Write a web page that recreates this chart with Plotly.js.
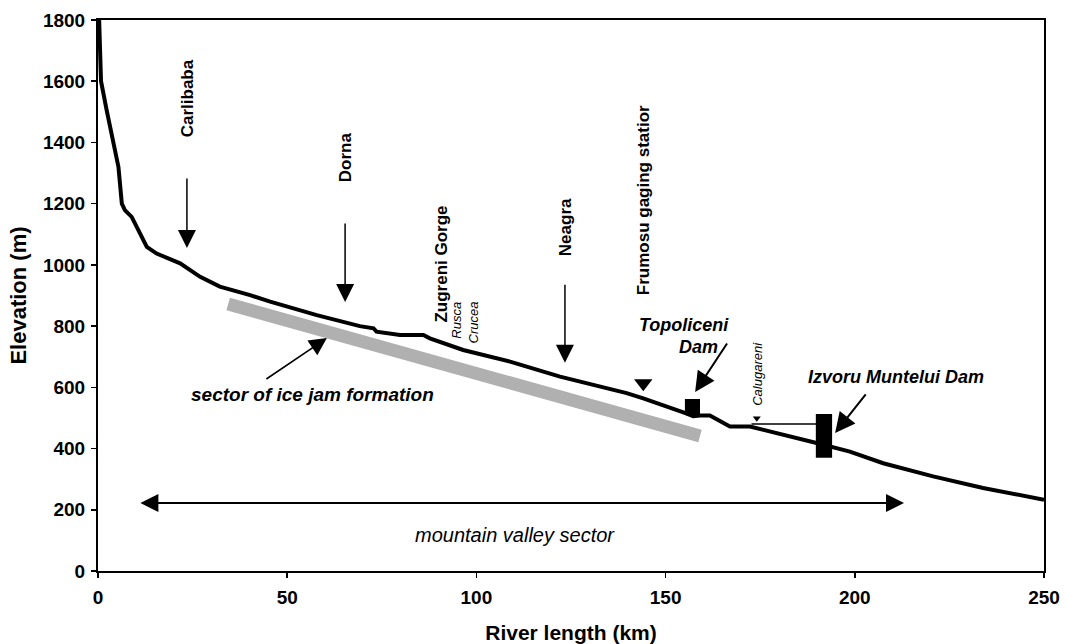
<!DOCTYPE html>
<html><head><meta charset="utf-8">
<script src="https://cdn.plot.ly/plotly-3.0.1.min.js"></script>
<style>html,body{margin:0;padding:0;background:#fff;}#chart{width:1067px;height:644px;}</style>
</head><body><div id="chart"></div>
<script>
// River longitudinal profile
const riverKm = [0.3, 0.8, 2.3, 4, 5.4, 6.3, 7.1, 8.9, 12.9, 15.5, 21.7, 27, 32.2, 40.2, 45.5, 57.8, 69.2, 72.8, 73.6, 79.8, 86, 87.7, 96.5, 108.9, 122.1, 139.7, 144.1, 154.7, 157.3, 159.1, 161.7, 167, 172.3, 189.9, 198.7, 207.5, 220.7, 233.9, 250];
const elevation = [1800, 1600, 1505, 1407, 1320, 1200, 1179, 1157, 1059, 1037, 1005, 961, 929, 901, 880, 836, 800, 793, 782, 771, 771, 760, 722, 684, 635, 581, 564, 518, 506, 508, 508, 472, 472, 418, 390, 352, 309, 271, 233];

// Sector of ice jam formation (gray band)
const iceJamKm = [34.4, 159.1];
const iceJamElev = [872, 441];

// Reservoir level of Izvoru Muntelui
const reservoirKm = [172.7, 189.9];
const reservoirElev = [480, 480];

// Dams: [km start, km end], [elev bottom, elev top]
const topoliceniKm = [155.1, 159.1];
const topoliceniElev = [510, 562];
const izvoruKm = [189.7, 194.0];
const izvoruElev = [370, 513];

// Gauging stations (triangles)
const frumosuKm = [144.1];
const frumosuElev = [613];
const calugareniKm = [174.1];
const calugareniElev = [499];

// Vertical place labels
const placeNames = ["Carlibaba", "Dorna", "Zugreni Gorge", "Neagra", "Frumosu gaging statior"];
const placeKm = [23.5, 65.3, 90.8, 123.4, 144.0];
const placeElev = [1544, 1352, 1003, 1123, 1211];

// Down arrows: km, tail elev, tip elev
const downArrowKm = [23.5, 65.3, 123.4];
const downArrowTail = [1287, 1140, 940];
const downArrowTip = [1055, 879, 680];

// Mountain valley sector
const valleyKm = [10.8, 213];
const valleyElev = [222, 222];

const FONT = "'Liberation Sans', Arial, Helvetica, sans-serif";

const traces = [
  {x: iceJamKm, y: iceJamElev, mode: 'lines', line: {color: '#b0b0b0', width: 13}, hoverinfo: 'skip'},
  {x: riverKm, y: elevation, mode: 'lines', line: {color: '#000', width: 4}},
  {x: reservoirKm, y: reservoirElev, mode: 'lines', line: {color: '#000', width: 1.5}},
  {x: frumosuKm, y: frumosuElev, mode: 'markers', marker: {symbol: 'triangle-down', size: 16, color: '#000'}},
  {x: calugareniKm, y: calugareniElev, mode: 'markers', marker: {symbol: 'triangle-down', size: 7, color: '#000'}}
];

const shapes = [
  {type: 'rect', xref: 'x', yref: 'y', x0: topoliceniKm[0], x1: topoliceniKm[1], y0: topoliceniElev[0], y1: topoliceniElev[1], fillcolor: '#000', line: {width: 0}},
  {type: 'rect', xref: 'x', yref: 'y', x0: izvoruKm[0], x1: izvoruKm[1], y0: izvoruElev[0], y1: izvoruElev[1], fillcolor: '#000', line: {width: 0}}
];

const annotations = [];
placeNames.forEach((n, i) => {
  annotations.push({x: placeKm[i], y: placeElev[i], xref: 'x', yref: 'y', text: n, showarrow: false, textangle: -90,
    font: {family: FONT, size: 17, color: '#000', weight: 'bold'}});
});
downArrowKm.forEach((k, i) => {
  annotations.push({x: k, y: downArrowTip[i], ax: k, ay: downArrowTail[i], xref: 'x', yref: 'y', axref: 'x', ayref: 'y',
    text: '', showarrow: true, arrowhead: 2, arrowsize: 2.4, arrowwidth: 1.5, arrowcolor: '#000', standoff: 0});
});
const smallItal = {family: FONT, size: 13, color: '#000', style: 'italic'};
annotations.push({x: 94.8, y: 820, xref: 'x', yref: 'y', text: 'Rusca', showarrow: false, textangle: -90, font: smallItal});
annotations.push({x: 99.2, y: 813, xref: 'x', yref: 'y', text: 'Crucea', showarrow: false, textangle: -90, font: smallItal});
annotations.push({x: 174.4, y: 644, xref: 'x', yref: 'y', text: 'Calugareni', showarrow: false, textangle: -90, font: smallItal});

const bigItal = {family: FONT, size: 18, color: '#000', style: 'italic', weight: 'bold'};
annotations.push({x: 154.9, y: 804, xref: 'x', yref: 'y', text: 'Topoliceni', showarrow: false, font: bigItal});
annotations.push({x: 158.8, y: 732, xref: 'x', yref: 'y', text: 'Dam', showarrow: false, font: bigItal});
annotations.push({x: 210.9, y: 634, xref: 'x', yref: 'y', text: 'Izvoru Muntelui Dam', showarrow: false, font: bigItal});
annotations.push({x: 56.8, y: 575, xref: 'x', yref: 'y', text: 'sector of ice jam formation', showarrow: false,
  font: {family: FONT, size: 19, color: '#000', style: 'italic', weight: 'bold'}});
annotations.push({x: 110.2, y: 119, xref: 'x', yref: 'y', text: 'mountain valley sector', showarrow: false,
  font: {family: FONT, size: 20, color: '#000', style: 'italic'}});

// pointer arrows
annotations.push({x: 60.5, y: 761, ax: 44.1, ay: 624, xref: 'x', yref: 'y', axref: 'x', ayref: 'y', text: '', showarrow: true,
  arrowhead: 2, arrowsize: 2.2, arrowwidth: 1.6, arrowcolor: '#000', standoff: 0});
annotations.push({x: 157.8, y: 585, ax: 166.5, ay: 748, xref: 'x', yref: 'y', axref: 'x', ayref: 'y', text: '', showarrow: true,
  arrowhead: 2, arrowsize: 2.0, arrowwidth: 2, arrowcolor: '#000', standoff: 0});
annotations.push({x: 194.8, y: 451, ax: 203.2, ay: 582, xref: 'x', yref: 'y', axref: 'x', ayref: 'y', text: '', showarrow: true,
  arrowhead: 2, arrowsize: 2.0, arrowwidth: 2, arrowcolor: '#000', standoff: 0});
annotations.push({x: valleyKm[1], y: valleyElev[1], ax: valleyKm[0], ay: valleyElev[0], xref: 'x', yref: 'y', axref: 'x', ayref: 'y',
  text: '', showarrow: true, arrowside: 'end+start', arrowhead: 2, startarrowhead: 2, arrowsize: 1.8, startarrowsize: 1.8,
  arrowwidth: 2, arrowcolor: '#000', standoff: 0, startstandoff: 0});

const tickFont = {family: FONT, size: 19, color: '#000', weight: 'bold'};
const layout = {
  width: 1067, height: 644,
  margin: {l: 98, r: 23, t: 20, b: 73},
  paper_bgcolor: '#fff', plot_bgcolor: '#fff',
  showlegend: false,
  xaxis: {range: [0, 250], dtick: 50, tick0: 0, showgrid: false, zeroline: false, showline: true, mirror: true,
    linecolor: '#000', linewidth: 2, ticks: 'outside', ticklen: 5, tickwidth: 1.5, tickcolor: '#000',
    tickfont: tickFont, ticklabelstandoff: 3,
    title: {text: 'River length (km)', font: {family: FONT, size: 21, color: '#000', weight: 'bold'}, standoff: 21}},
  yaxis: {range: [0, 1800], dtick: 200, tick0: 0, showgrid: false, zeroline: false, showline: true, mirror: true,
    linecolor: '#000', linewidth: 2, ticks: 'outside', ticklen: 5, tickwidth: 1.5, tickcolor: '#000',
    tickfont: tickFont, ticklabelstandoff: 2,
    title: {text: 'Elevation (m)', font: {family: FONT, size: 22, color: '#000', weight: 'bold'}, standoff: 10}},
  shapes: shapes,
  annotations: annotations
};

Plotly.newPlot('chart', traces, layout, {displayModeBar: false, staticPlot: true});
</script>
</body></html>
